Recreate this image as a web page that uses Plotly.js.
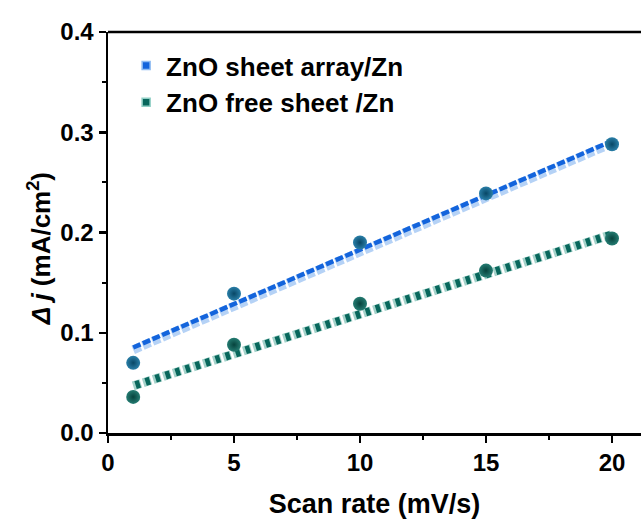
<!DOCTYPE html>
<html>
<head>
<meta charset="utf-8">
<script src="https://cdn.plot.ly/plotly-3.0.1.min.js"></script>
<style>
  html, body { margin: 0; padding: 0; background: #ffffff; }
  #chart { width: 641px; height: 519px; }
</style>
</head>
<body>
<div id="chart"></div>
<script>
// Scan rate (mV/s) and current density difference Δj (mA/cm²)
const scanRate = [1, 5, 10, 15, 20];
const sheetArray = [0.070, 0.139, 0.190, 0.239, 0.288];
const freeSheet = [0.036, 0.088, 0.129, 0.162, 0.194];

// Linear fit end points for each electrode
const fitX = [1, 20];
const fitSheetArray = [0.083, 0.289];
const fitFreeSheet = [0.047, 0.198];

// Axis ticks
const xTickVals = [0, 5, 10, 15, 20];
const yTickVals = [0, 0.1, 0.2, 0.3, 0.4];
const yTickText = ['0.0', '0.1', '0.2', '0.3', '0.4'];

const seriesNames = ['ZnO sheet array/Zn', 'ZnO free sheet /Zn'];
const xTitle = 'Scan rate (mV/s)';
const yTitle = '<i>Δ j</i> (mA/cm<sup>2</sup>)';

const W = 641, H = 519;
const margin = { l: 108, r: 0, t: 32, b: 86 };
const yRange = [0, 0.4];
const xRange = [0, (W - margin.l) / 25.2];
const plotH = H - margin.t - margin.b;
const pxToY = (yRange[1] - yRange[0]) / plotH;

const blueDark = '#1364dc', blueLight = '#b5d2f6';
const tealDark = '#08675c', tealLight = '#a3d2ca';

function lift(arr, px) { return arr.map(v => v + px * pxToY); }

const FONT = 'Liberation Sans, Arial, sans-serif';

const traces = [
  // fit line: sheet array (light lower half, dark upper half)
  { x: fitX, y: fitSheetArray, mode: 'lines', showlegend: false, hoverinfo: 'skip',
    line: { color: blueLight, width: 9, dash: '8px,2.5px' } },
  { x: fitX, y: lift(fitSheetArray, 2.3), mode: 'lines', showlegend: false, hoverinfo: 'skip',
    line: { color: blueDark, width: 4.5, dash: '8px,2.5px' } },
  // fit line: free sheet (light frame, dark centre)
  { x: fitX, y: fitFreeSheet, mode: 'lines', showlegend: false, hoverinfo: 'skip',
    line: { color: tealLight, width: 9, dash: '8px,2.5px' } },
  { x: fitX, y: fitFreeSheet, mode: 'lines', showlegend: false, hoverinfo: 'skip',
    line: { color: tealDark, width: 8, dash: '0px,2.5px,4.5px,3.5px' } },
  // measured points
  { x: scanRate, y: sheetArray, mode: 'markers', showlegend: false,
    marker: { symbol: 'circle', size: 14, color: '#2a7fa8',
              gradient: { type: 'radial', color: '#084766' } } },
  { x: scanRate, y: freeSheet, mode: 'markers', showlegend: false,
    marker: { symbol: 'circle', size: 14, color: '#257c72',
              gradient: { type: 'radial', color: '#06433d' } } },
  // legend entries
  { x: [null], y: [null], mode: 'markers', name: seriesNames[0], legendgroup: 'a',
    marker: { symbol: 'square', size: 8, color: blueDark, line: { color: '#8fbcf2', width: 1.5 } } },
  { x: [null], y: [null], mode: 'markers', name: seriesNames[1], legendgroup: 'b',
    marker: { symbol: 'square', size: 8, color: tealDark, line: { color: '#8fcfc5', width: 1.5 } } }
];

const tickFont = { family: FONT, size: 24, color: '#000', weight: 'bold' };

const layout = {
  width: W, height: H,
  margin: margin,
  paper_bgcolor: '#ffffff', plot_bgcolor: '#ffffff',
  showlegend: true,
  legend: {
    x: 0.034, y: 0.975, xanchor: 'left', yanchor: 'top',
    bgcolor: 'rgba(0,0,0,0)', traceorder: 'grouped', tracegroupgap: 0,
    font: { family: FONT, size: 26, color: '#000', weight: 'bold' }
  },
  xaxis: {
    range: xRange, showgrid: false, zeroline: false,
    showline: true, linecolor: '#000', linewidth: 2.5,
    ticks: 'outside', ticklen: 7, tickwidth: 2.5, tickcolor: '#000',
    tickvals: xTickVals, tickfont: tickFont,
    minor: { dtick: 2.5, ticks: 'outside', ticklen: 4, tickwidth: 2, tickcolor: '#000', showgrid: false },
    title: { text: xTitle, standoff: 19,
             font: { family: FONT, size: 27, color: '#000', weight: 'bold' } }
  },
  yaxis: {
    range: yRange, showgrid: false, zeroline: false,
    showline: true, linecolor: '#000', linewidth: 2.5,
    ticks: 'outside', ticklen: 7, tickwidth: 2.5, tickcolor: '#000',
    tickvals: yTickVals, ticktext: yTickText, tickfont: tickFont,
    minor: { dtick: 0.05, ticks: 'outside', ticklen: 4, tickwidth: 2, tickcolor: '#000', showgrid: false }
  },
  annotations: [
    { text: yTitle, xref: 'paper', yref: 'paper', x: -0.128, y: 0.46,
      xanchor: 'center', yanchor: 'middle', textangle: -90, showarrow: false,
      font: { family: FONT, size: 26, color: '#000', weight: 'bold' } }
  ],
  shapes: [
    { type: 'line', xref: 'paper', yref: 'paper', x0: 0, x1: 1, y0: 1, y1: 1,
      line: { color: '#000', width: 2.5 } }
  ]
};

Plotly.newPlot('chart', traces, layout, { staticPlot: true, displayModeBar: false });
</script>
</body>
</html>
